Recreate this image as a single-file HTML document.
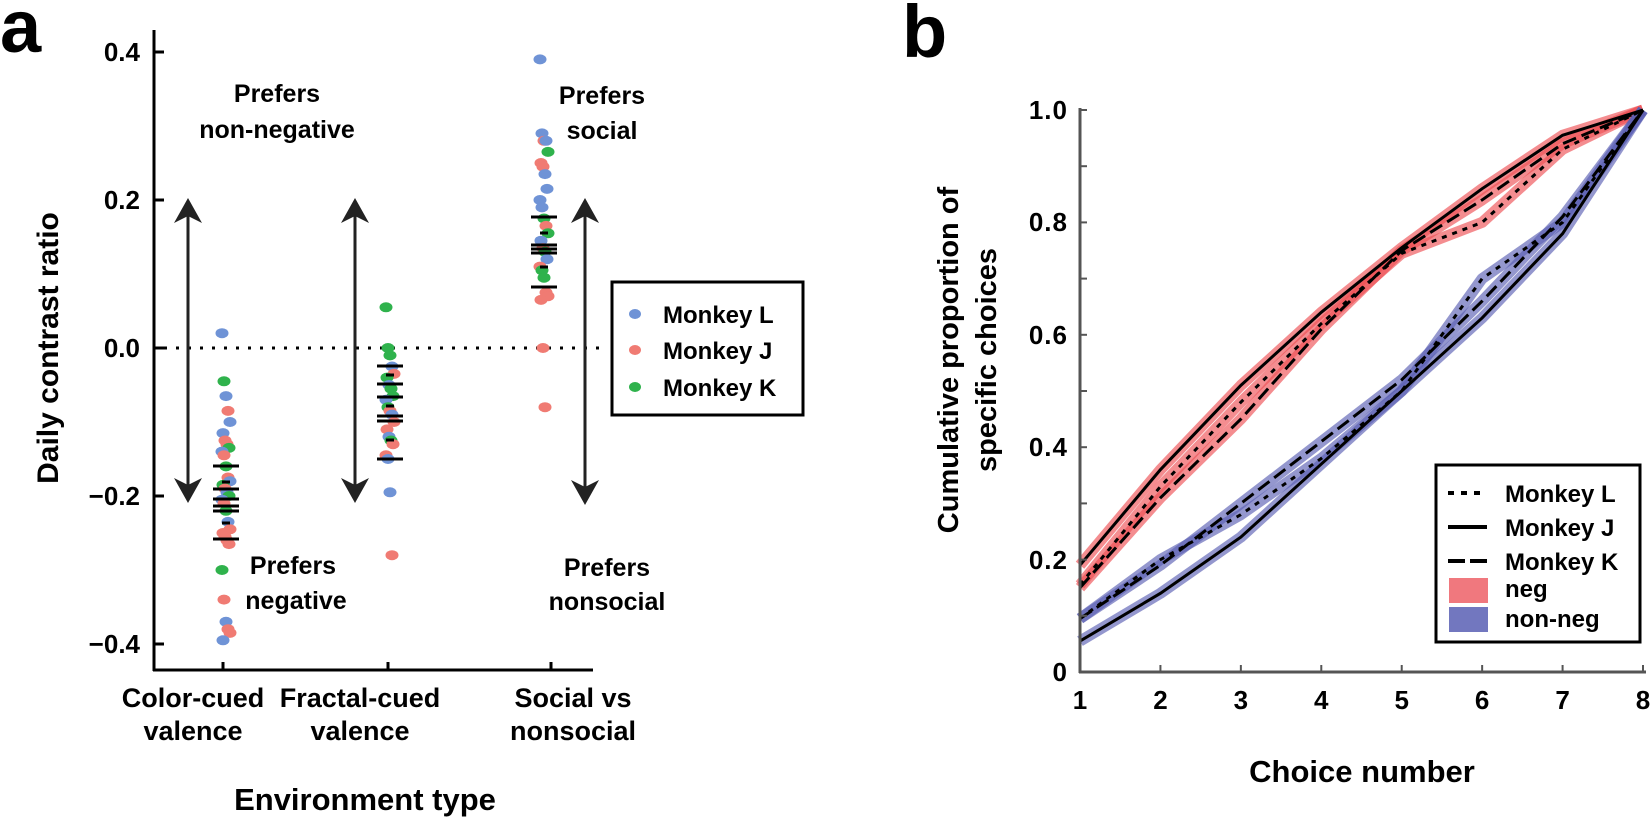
<!DOCTYPE html>
<html><head><meta charset="utf-8"><style>
html,body{margin:0;padding:0;background:#fff}
svg{display:block}
text{font-family:"Liberation Sans",Arial,sans-serif;font-weight:bold;fill:#000}
</style></head><body>
<svg id="s" width="1650" height="817" viewBox="0 0 1650 817" xmlns="http://www.w3.org/2000/svg">
<!-- Panel a -->
<text x="0" y="52" font-size="74">a</text>
<line x1="154" y1="30" x2="154" y2="671" stroke="#000" stroke-width="3"/>
<line x1="153" y1="670" x2="593" y2="670" stroke="#000" stroke-width="3"/>
<g stroke="#000" stroke-width="3">
<line x1="154" y1="52" x2="164" y2="52"/><line x1="154" y1="200" x2="164" y2="200"/>
<line x1="154" y1="348" x2="164" y2="348"/><line x1="154" y1="496" x2="164" y2="496"/>
<line x1="154" y1="644" x2="164" y2="644"/>
<line x1="223" y1="670" x2="223" y2="662"/><line x1="388" y1="670" x2="388" y2="662"/><line x1="551" y1="670" x2="551" y2="662"/>
</g>
<line x1="164" y1="348" x2="600" y2="348" stroke="#000" stroke-width="3" stroke-dasharray="3,9"/>
<g font-size="26" text-anchor="end">
<text x="140" y="61">0.4</text><text x="140" y="209">0.2</text><text x="140" y="357">0.0</text>
<text x="140" y="505">−0.2</text><text x="140" y="653">−0.4</text>
</g>
<text transform="translate(58,348) rotate(-90)" font-size="30" text-anchor="middle">Daily contrast ratio</text>
<g font-size="27" text-anchor="middle">
<text x="193" y="707">Color-cued</text><text x="193" y="740">valence</text>
<text x="360" y="707">Fractal-cued</text><text x="360" y="740">valence</text>
<text x="573" y="707">Social vs</text><text x="573" y="740">nonsocial</text>
</g>
<text x="365" y="810" font-size="31" text-anchor="middle">Environment type</text>
<g font-size="25" text-anchor="middle">
<text x="277" y="102">Prefers</text><text x="277" y="138">non-negative</text>
<text x="293" y="574">Prefers</text><text x="296" y="609">negative</text>
<text x="602" y="104">Prefers</text><text x="602" y="139">social</text>
<text x="607" y="576">Prefers</text><text x="607" y="610">nonsocial</text>
</g>
<g id="arrows" fill="#222" stroke="#222" stroke-width="3"></g>
<g id="dots"></g>
<g id="bars" stroke="#000"></g>
<rect x="612" y="282" width="191" height="133" fill="none" stroke="#000" stroke-width="3"/>
<ellipse cx="635" cy="314" rx="6" ry="5" fill="#6f93d6"/>
<ellipse cx="635" cy="350" rx="6" ry="5" fill="#f07b73"/>
<ellipse cx="635" cy="387" rx="6" ry="5" fill="#2fb24c"/>
<g font-size="24"><text x="663" y="323">Monkey L</text><text x="663" y="359">Monkey J</text><text x="663" y="396">Monkey K</text></g>

<!-- Panel b -->
<text x="902" y="57" font-size="74">b</text>
<g id="bands"></g>
<g id="lines" fill="none" stroke="#000" stroke-width="3"></g>
<line x1="1080" y1="108" x2="1080" y2="673" stroke="#555" stroke-width="3"/>
<line x1="1079" y1="672" x2="1646" y2="672" stroke="#555" stroke-width="3"/>
<g id="bticks" stroke="#555" stroke-width="2"></g>
<g font-size="26" text-anchor="end" letter-spacing="1">
<text x="1068" y="119">1.0</text><text x="1068" y="231">0.8</text><text x="1068" y="344">0.6</text>
<text x="1068" y="456">0.4</text><text x="1068" y="569">0.2</text><text x="1068" y="681">0</text>
</g>
<g id="xl" font-size="26" text-anchor="middle"></g>
<text x="1362" y="782" font-size="31" text-anchor="middle">Choice number</text>
<text transform="translate(958,360) rotate(-90)" font-size="29" text-anchor="middle">Cumulative proportion of</text>
<text transform="translate(996,360) rotate(-90)" font-size="29" text-anchor="middle">specific choices</text>
<rect x="1436" y="465" width="204" height="177" fill="#fff" stroke="#000" stroke-width="3"/>
<line x1="1448" y1="493" x2="1487" y2="493" stroke="#000" stroke-width="4" stroke-dasharray="6,7"/>
<line x1="1448" y1="527" x2="1487" y2="527" stroke="#000" stroke-width="4"/>
<line x1="1448" y1="561" x2="1487" y2="561" stroke="#000" stroke-width="4" stroke-dasharray="17,5"/>
<rect x="1449" y="578" width="39" height="25" fill="#f0787e"/>
<rect x="1449" y="607" width="39" height="25" fill="#7277bf"/>
<g font-size="24"><text x="1505" y="502">Monkey L</text><text x="1505" y="536">Monkey J</text><text x="1505" y="570">Monkey K</text>
<text x="1505" y="597">neg</text><text x="1505" y="627">non-neg</text></g>
</svg>
<script>
const NS="http://www.w3.org/2000/svg";
function el(p,t,a){const e=document.createElementNS(NS,t);for(const k in a)e.setAttribute(k,a[k]);document.getElementById(p).appendChild(e);return e;}
function arrow(x,y1,y2){el("arrows","line",{x1:x,y1:y1+12,x2:x,y2:y2-12});
 el("arrows","path",{d:`M${x},${y1} L${x-14},${y1+25} L${x},${y1+18} L${x+14},${y1+25}Z`,stroke:"none"});
 el("arrows","path",{d:`M${x},${y2} L${x-14},${y2-25} L${x},${y2-18} L${x+14},${y2-25}Z`,stroke:"none"});}
arrow(188,198,503);arrow(355,198,503);arrow(585,198,505);
const C={b:"#6f93d6",r:"#f07b73",g:"#2fb24c"};
const Y=v=>348-740*v;
const cols=[[226,"b .02 g -.045 b -.065 r -.085 b -.1 b -.115 r -.125 r -.13 g -.135 b -.14 r -.145 g -.16 r -.175 b -.18 g -.185 r -.19 b -.195 g -.2 b -.205 r -.21 g -.22 b -.235 r -.245 r -.25 r -.255 r -.26 r -.265 g -.3 r -.34 b -.37 r -.38 r -.385 b -.395"],
[390,"g .055 g 0 g -.01 b -.025 r -.035 g -.04 b -.05 g -.055 g -.065 b -.07 g -.08 r -.085 b -.09 r -.1 r -.11 b -.12 g -.125 r -.13 r -.145 b -.15 b -.195 r -.28"],
[544,"b .39 b .29 r .28 b .28 g .265 r .25 r .245 b .235 b .215 b .2 b .19 g .175 r .165 g .155 b .145 r .135 g .13 b .12 r .11 g .105 g .095 r .075 r .07 r .065 r 0 r -.08"]];
cols.forEach(([x,s])=>{const t=s.split(" ");for(let i=0;i<t.length;i+=2){const j=((i*37)%9)-4;el("dots","ellipse",{cx:x+j,cy:Y(+t[i+1]),rx:6.5,ry:5,fill:C[t[i]]});}});
function bars(x,long,short){long.forEach(y=>el("bars","line",{x1:x-13,x2:x+13,y1:y,y2:y,"stroke-width":3}));
 short.forEach(y=>el("bars","line",{x1:x-4,x2:x+4,y1:y,y2:y,"stroke-width":3}));}
bars(226,[466,489,499,506,511,539],[482,523]);
bars(390,[366,384,397,416,421,459],[375,406,440]);
bars(544,[217,245,249,253,287],[233,267]);
const X=i=>1080+(i-1)*80.43, YB=v=>672-562*v;
for(let v=0.1;v<1.0;v+=0.1)el("bticks","line",{x1:1080,x2:1087,y1:YB(v),y2:YB(v)});
for(let i=2;i<=8;i++){el("bticks","line",{x1:X(i),x2:X(i),y1:672,y2:665});}
for(let i=1;i<=8;i++){const t=el("xl","text",{x:X(i),y:709});t.textContent=i;}
const series=[
 {c:"rgba(238,80,85,0.65)",d:"",v:[.19,.36,.51,.64,.755,.86,.955,1]},
 {c:"rgba(238,80,85,0.65)",d:"5,6",v:[.155,.33,.48,.62,.745,.80,.93,1]},
 {c:"rgba(238,80,85,0.65)",d:"14,6",v:[.15,.31,.45,.61,.75,.84,.94,1]},
 {c:"rgba(90,95,180,0.65)",d:"",v:[.055,.14,.24,.37,.50,.63,.78,1]},
 {c:"rgba(90,95,180,0.65)",d:"5,6",v:[.095,.20,.28,.38,.50,.70,.80,1]},
 {c:"rgba(90,95,180,0.65)",d:"14,6",v:[.095,.19,.30,.41,.52,.66,.81,1]}];
series.forEach(s=>{const p=s.v.map((v,i)=>(i?"L":"M")+X(i+1)+","+YB(v)).join(" ");
 el("bands","path",{d:p,fill:"none",stroke:s.c,"stroke-width":11,"stroke-linejoin":"round"});});
series.forEach(s=>{const p=s.v.map((v,i)=>(i?"L":"M")+X(i+1)+","+YB(v)).join(" ");
 const a={d:p};if(s.d)a["stroke-dasharray"]=s.d;el("lines","path",a);});
</script>
</body></html>
